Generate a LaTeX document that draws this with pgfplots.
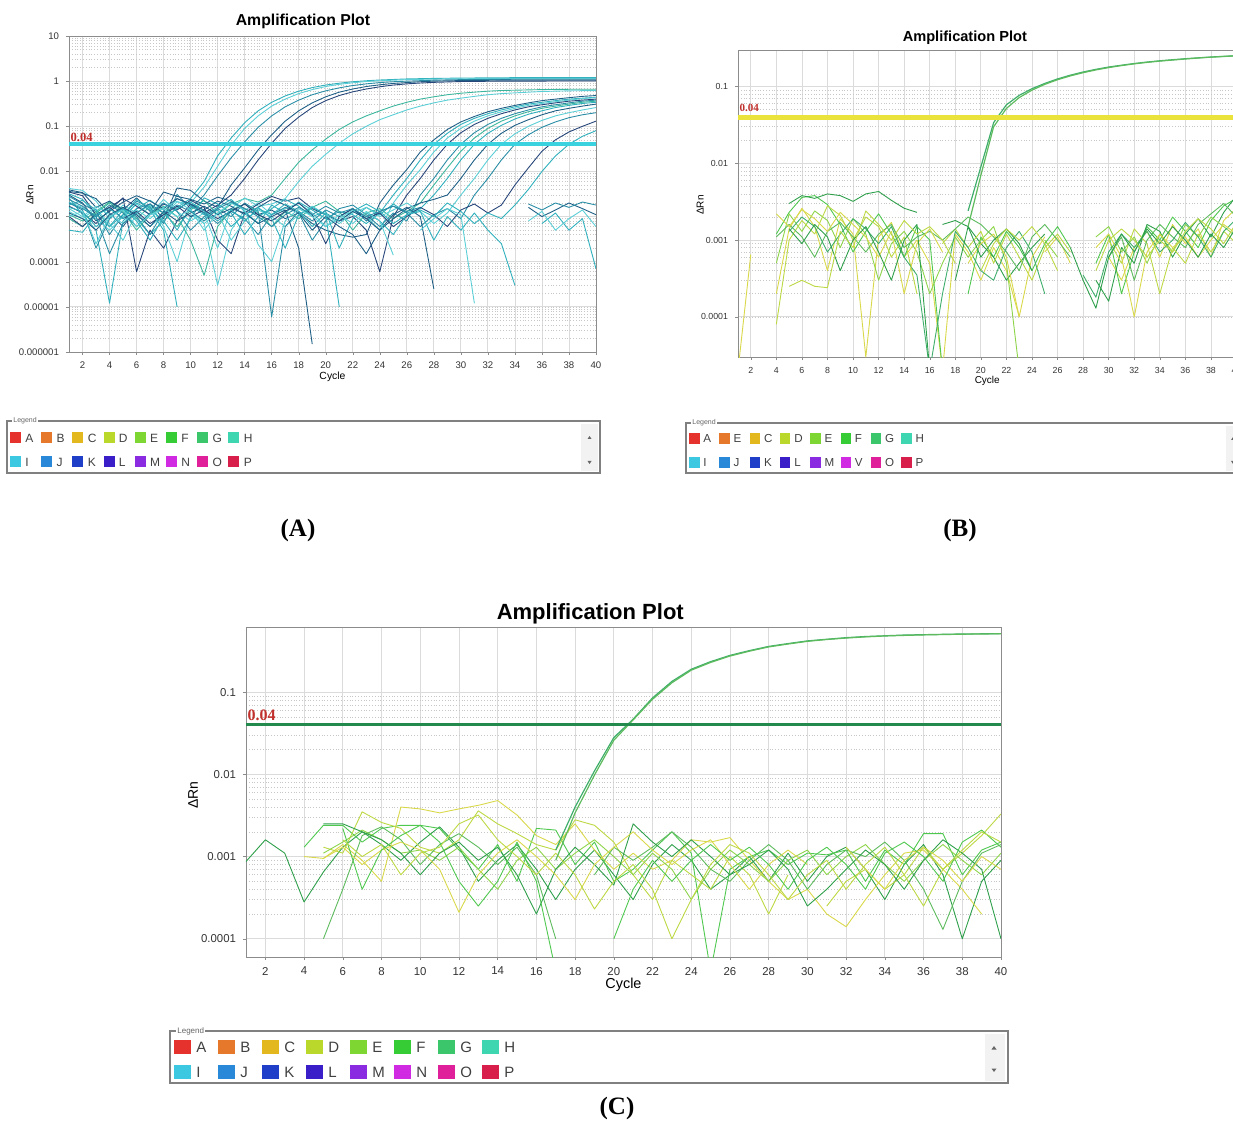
\documentclass[border=0pt]{standalone}
\usepackage{fontspec}
\setmainfont{Liberation Sans}
\newfontfamily\timesf{Liberation Serif}
\usepackage{pgfplots}
\pgfplotsset{compat=1.18}

% curve colours
\definecolor{aLight}{HTML}{5CCFD6}
\definecolor{aTeal}{HTML}{2FB0BC}
\definecolor{aMid}{HTML}{2A8DA6}
\definecolor{aDark}{HTML}{1F5F86}
\definecolor{aNavy}{HTML}{27467A}
\definecolor{aGT}{HTML}{3CB79E}
\definecolor{gY}{HTML}{D9D84A}
\definecolor{gYG}{HTML}{BCD843}
\definecolor{gLG}{HTML}{8DD44A}
\definecolor{gG}{HTML}{4FC84F}
\definecolor{gMG}{HTML}{5DBB5D}
\definecolor{gDG}{HTML}{2E9F4B}
\definecolor{gTG}{HTML}{3FAE6C}
\definecolor{thrA}{HTML}{3AD2DE}
\definecolor{thrB}{HTML}{E9E33C}
\definecolor{thrC}{HTML}{218A4C}
\definecolor{thrTxt}{HTML}{C0302C}
% legend colours
\definecolor{lA}{HTML}{E5322D}
\definecolor{lB}{HTML}{E5782A}
\definecolor{lC}{HTML}{E3B81E}
\definecolor{lD}{HTML}{BAD82C}
\definecolor{lE}{HTML}{7ED632}
\definecolor{lF}{HTML}{35CC35}
\definecolor{lG}{HTML}{3CC66C}
\definecolor{lH}{HTML}{3DD6B0}
\definecolor{lI}{HTML}{3CC8E0}
\definecolor{lJ}{HTML}{2A88D8}
\definecolor{lK}{HTML}{1F3FC8}
\definecolor{lL}{HTML}{3A1FC8}
\definecolor{lM}{HTML}{8A2BE2}
\definecolor{lN}{HTML}{D02BE2}
\definecolor{lO}{HTML}{E0209A}
\definecolor{lP}{HTML}{D81E4A}

\pgfplotsset{
  ampplot/.style={
    scale only axis, anchor=south west,
    xmin=1, xmax=40, xtick={2,4,...,40},
    axis line style={draw=black!45},
    tick style={draw=black!45}, major tick length=1.5pt, minor tick length=0pt,
    tick align=outside, xtick pos=bottom, ytick pos=left,
    grid=both,
    major grid style={draw=black!14, line width=0.4pt},
    minor grid style={draw=black!22, densely dotted, line width=0.3pt},
    unbounded coords=jump, clip=true,
    tick label style={text=black!80},
    every axis plot/.append style={no markers, line width=0.45pt, line join=round},
  },
}

\begin{document}
\begin{tikzpicture}[x=0.5pt, y=0.5pt]
\useasboundingbox (0,0) rectangle (1233,1121);
\clip (0,0) rectangle (1233,1121);

%% ---------------- panel A ----------------
\begin{axis}[ymode=log, ampplot, at={(34.5pt,384.5pt)}, width=263.5pt, height=158pt,
  /pgf/number format/assume math mode=true,
  ymin=1e-6, ymax=10,
  ytick={1e-6,1e-5,1e-4,1e-3,1e-2,1e-1,1,10},
  yticklabels={0.000001,0.00001,0.0001,0.001,0.01,0.1,1,10},
  tick label style={font=\fontsize{4.8}{5}\selectfont},
  title={Amplification Plot},
  title style={font=\bfseries\fontsize{7.9}{8}\selectfont, at={(axis description cs:0.444,1.009)}, anchor=center},
  xlabel={Cycle}, xlabel style={font=\fontsize{5.2}{6}\selectfont, at={(axis description cs:0.5,-0.08)}, anchor=center},
  ylabel={ΔRn}, ylabel style={font=\fontsize{5}{6}\selectfont, at={(axis description cs:-0.074,0.497)}, anchor=center},
]
\addplot[aTeal] coordinates {(1,3.2e-3)(2,2.4e-3)(3,1.1e-3)(4,6e-4)(5,1.4e-3)(6,9e-4)(7,4e-4)(8,8e-4)(9,1.6e-3)(10,2.5e-3)(11,6e-3)(12,0.022)(13,0.055)(14,0.12)(15,0.22)(16,0.34)(17,0.47)(18,0.6)(19,0.72)(20,0.82)(21,0.9)(22,0.97)(23,1.02)(24,1.06)(26,1.12)(28,1.15)(30,1.17)(33,1.19)(36,1.2)(40,1.2)};
\addplot[aLight] coordinates {(1,4.2e-3)(2,3.8e-3)(3,2.2e-3)(4,9e-4)(5,1.8e-3)(6,1.2e-3)(7,6e-4)(8,1.1e-3)(9,2.1e-3)(10,2e-3)(11,4.5e-3)(12,0.013)(13,0.038)(14,0.09)(15,0.17)(16,0.28)(17,0.4)(18,0.53)(19,0.65)(20,0.76)(21,0.85)(22,0.92)(23,0.98)(24,1.02)(26,1.08)(28,1.11)(30,1.13)(34,1.15)(40,1.15)};
\addplot[aMid] coordinates {(1,2.8e-3)(2,1.9e-3)(3,1.3e-3)(4,4e-4)(5,1.1e-3)(6,2.2e-3)(7,1.6e-3)(8,7e-4)(9,3.1e-3)(10,1.5e-3)(11,3e-3)(12,8e-3)(13,0.02)(14,0.045)(15,0.095)(16,0.17)(17,0.27)(18,0.38)(19,0.5)(20,0.61)(21,0.71)(22,0.8)(23,0.87)(24,0.93)(25,0.97)(26,1.0)(28,1.05)(30,1.08)(34,1.1)(40,1.1)};
\addplot[aDark] coordinates {(1,3.6e-3)(2,3.3e-3)(3,2.5e-3)(4,1.2e-3)(5,6e-4)(6,1.5e-3)(7,1.9e-3)(8,9e-4)(9,4.3e-3)(10,3.8e-3)(11,2.2e-3)(12,1.6e-3)(13,5e-3)(14,0.012)(15,0.03)(16,0.065)(17,0.13)(18,0.22)(19,0.33)(20,0.45)(21,0.57)(22,0.67)(23,0.76)(24,0.83)(25,0.89)(26,0.93)(27,0.97)(28,1.0)(30,1.03)(33,1.05)(40,1.05)};
\addplot[aNavy] coordinates {(1,1.7e-3)(2,1.2e-3)(3,7e-4)(4,1.4e-3)(5,2.6e-3)(6,6e-5)(7,5e-4)(8,2e-4)(9,8e-4)(10,1.9e-3)(11,1.2e-3)(12,1.8e-3)(13,3e-3)(14,7e-3)(15,0.018)(16,0.042)(17,0.09)(18,0.16)(19,0.26)(20,0.37)(21,0.48)(22,0.58)(23,0.67)(24,0.75)(25,0.82)(26,0.87)(27,0.91)(28,0.94)(30,0.98)(33,1.0)(40,1.01)};
\addplot[aGT] coordinates {(1,1.1e-3)(2,8e-4)(3,1.3e-3)(4,2.1e-3)(5,1.5e-3)(6,9e-4)(7,1.7e-3)(8,1.2e-3)(9,6e-4)(10,1.4e-3)(11,2.3e-3)(12,1.1e-3)(13,1.9e-3)(14,2.5e-3)(15,2.1e-3)(16,3e-3)(17,7e-3)(18,0.016)(19,0.03)(20,0.052)(21,0.085)(22,0.125)(23,0.17)(24,0.22)(25,0.28)(26,0.34)(27,0.4)(28,0.45)(29,0.5)(30,0.54)(31,0.57)(32,0.6)(33,0.62)(34,0.63)(35,0.64)(36,0.65)(38,0.66)(40,0.66)};
\addplot[aLight] coordinates {(1,2.1e-3)(2,1.6e-3)(3,9e-4)(4,5e-4)(5,1e-3)(6,1.9e-3)(7,1.1e-3)(8,2.4e-3)(9,1.3e-3)(10,8e-4)(11,1.2e-3)(12,2e-4)(13,1.5e-3)(14,2.6e-3)(15,1.7e-3)(16,1.9e-3)(17,2.5e-3)(18,6e-3)(19,0.013)(20,0.024)(21,0.042)(22,0.068)(23,0.1)(24,0.14)(25,0.18)(26,0.23)(27,0.28)(28,0.33)(29,0.38)(30,0.42)(31,0.46)(32,0.5)(33,0.53)(34,0.55)(35,0.57)(36,0.59)(37,0.6)(38,0.61)(40,0.62)};
\addplot[aDark] coordinates {(1,3.9e-3)(2,3.4e-3)(3,1.6e-3)(4,2.2e-3)(5,1.4e-3)(6,2.6e-3)(7,1.3e-3)(8,3.5e-3)(9,2.8e-3)(10,2.4e-3)(11,1.9e-3)(12,2.7e-3)(13,2.2e-3)(14,1.5e-3)(15,1.1e-3)(16,1.4e-3)(17,9e-4)(18,1.2e-3)(19,7e-4)(20,5e-4)(21,4e-4)(22,3.5e-4)(23,4e-4)(24,2e-3)(25,5e-3)(26,0.011)(27,0.027)(28,0.05)(29,0.085)(30,0.125)(31,0.165)(32,0.21)(33,0.25)(34,0.29)(35,0.33)(36,0.37)(37,0.4)(38,0.43)(39,0.46)(40,0.48)};
\addplot[aTeal] coordinates {(1,2.6e-3)(2,1.1e-3)(3,5e-4)(4,1.2e-5)(5,8e-4)(6,1.5e-3)(7,2.3e-3)(8,1.4e-3)(9,5e-4)(10,1.7e-3)(11,1.1e-3)(12,1.6e-3)(13,2.4e-3)(14,1.3e-3)(15,7e-4)(16,1.8e-3)(17,1.2e-3)(18,2.1e-3)(19,1.4e-3)(20,9e-4)(21,1.3e-3)(22,1.1e-3)(23,7e-4)(24,1.2e-3)(25,3e-3)(26,7e-3)(27,0.018)(28,0.04)(29,0.07)(30,0.11)(31,0.15)(32,0.19)(33,0.23)(34,0.27)(35,0.31)(36,0.34)(37,0.37)(38,0.4)(39,0.42)(40,0.44)};
\addplot[aLight] coordinates {(1,1.3e-3)(2,9e-4)(3,1.5e-3)(4,7e-4)(5,3e-4)(6,1.2e-3)(7,1.8e-3)(8,6e-4)(9,1e-4)(10,1.1e-3)(11,7e-4)(12,3e-5)(13,5e-4)(14,1.4e-3)(15,2e-3)(16,1.1e-3)(17,1.5e-3)(18,2e-3)(19,1.2e-3)(20,6e-4)(21,9e-4)(22,1.4e-3)(23,1e-3)(24,5e-4)(25,2e-3)(26,5e-3)(27,0.011)(28,0.027)(29,0.055)(30,0.09)(31,0.13)(32,0.17)(33,0.21)(34,0.25)(35,0.29)(36,0.32)(37,0.35)(38,0.38)(39,0.41)(40,0.43)};
\addplot[aNavy] coordinates {(1,3.5e-3)(2,2.9e-3)(3,1.1e-3)(4,1.6e-3)(5,2.5e-3)(6,1.7e-3)(7,1.1e-3)(8,1.9e-3)(9,1.4e-3)(10,2.3e-3)(11,1.6e-3)(12,3e-4)(13,1.5e-4)(14,1.2e-3)(15,1.9e-3)(16,2.8e-3)(17,2.2e-3)(18,2.6e-3)(19,1.5e-3)(20,1.1e-3)(21,8e-4)(22,1e-3)(23,5e-4)(24,6e-5)(25,1e-3)(26,3e-3)(27,7e-3)(28,0.018)(29,0.04)(30,0.072)(31,0.11)(32,0.15)(33,0.19)(34,0.23)(35,0.27)(36,0.3)(37,0.33)(38,0.36)(39,0.38)(40,0.4)};
\addplot[aMid] coordinates {(1,2e-3)(2,1.4e-3)(3,2e-4)(4,9e-4)(5,1.6e-3)(6,1e-3)(7,4e-4)(8,1.3e-3)(9,2.5e-3)(10,1.8e-3)(11,1.2e-3)(12,7e-4)(13,1.3e-3)(14,9e-4)(15,4e-4)(16,1.1e-3)(17,1.6e-3)(18,1.2e-3)(19,3e-4)(20,8e-4)(21,1.5e-3)(22,1.8e-3)(23,1.1e-3)(24,6e-4)(25,1.2e-3)(26,8e-4)(27,3e-3)(28,7e-3)(29,0.018)(30,0.04)(31,0.072)(32,0.11)(33,0.15)(34,0.19)(35,0.23)(36,0.27)(37,0.3)(38,0.33)(39,0.36)(40,0.38)};
\addplot[aGT] coordinates {(1,9e-4)(2,6e-4)(3,1.2e-3)(4,2e-3)(5,1.3e-3)(6,5e-4)(7,1.1e-3)(8,1.7e-3)(9,1e-3)(10,3e-4)(11,5e-5)(12,6e-4)(13,1.4e-3)(14,1.9e-3)(15,1.2e-3)(16,6e-4)(17,1.3e-3)(18,9e-4)(19,1.6e-3)(20,2.2e-3)(21,1.3e-3)(22,5e-4)(23,1.2e-3)(24,1.5e-3)(25,9e-4)(26,1.3e-3)(27,2e-3)(28,5e-3)(29,0.012)(30,0.028)(31,0.055)(32,0.09)(33,0.13)(34,0.17)(35,0.21)(36,0.25)(37,0.28)(38,0.31)(39,0.34)(40,0.36)};
\addplot[aTeal] coordinates {(1,1.8e-3)(2,2.3e-3)(3,1.4e-3)(4,6e-4)(5,1.1e-3)(6,2.4e-3)(7,1.5e-3)(8,8e-4)(9,3e-4)(10,9e-4)(11,2.6e-3)(12,1.9e-3)(13,1.2e-3)(14,4e-4)(15,1e-3)(16,1.5e-3)(17,2.4e-3)(18,1.7e-3)(19,1e-3)(20,1.3e-3)(21,2e-4)(22,9e-4)(23,1.6e-3)(24,1.1e-3)(25,1.9e-3)(26,1.2e-3)(27,1.5e-3)(28,3e-3)(29,7e-3)(30,0.018)(31,0.04)(32,0.07)(33,0.105)(34,0.145)(35,0.185)(36,0.22)(37,0.26)(38,0.29)(39,0.32)(40,0.34)};
\addplot[aDark] coordinates {(1,3e-3)(2,2e-3)(3,8e-4)(4,1.3e-3)(5,2.1e-3)(6,2.9e-3)(7,2.2e-3)(8,1.5e-3)(9,2.5e-3)(10,1.9e-3)(11,1.4e-3)(12,2.2e-3)(13,1.7e-3)(14,1.1e-3)(15,1.6e-3)(16,2.4e-3)(17,1.8e-3)(18,1.2e-3)(19,5e-4)(20,1e-3)(21,6e-4)(22,4e-4)(23,1.5e-4)(24,5e-4)(25,9e-4)(26,1.5e-3)(27,2e-3)(28,2.4e-3)(29,3e-3)(30,7e-3)(31,0.018)(32,0.04)(33,0.07)(34,0.105)(35,0.14)(36,0.18)(37,0.22)(38,0.25)(39,0.28)(40,0.31)};
\addplot[aLight] coordinates {(1,1.5e-3)(2,1e-3)(3,1.7e-3)(4,1.1e-3)(5,7e-4)(6,1.4e-3)(7,9e-4)(8,1.6e-3)(9,2.2e-3)(10,1.4e-3)(11,7e-4)(12,1.2e-3)(13,3e-4)(14,8e-4)(15,1.4e-3)(16,1e-3)(17,6e-4)(18,1.1e-3)(19,1.7e-3)(20,1.1e-3)(21,7e-4)(22,1.2e-3)(23,1.6e-3)(24,1e-3)(25,1.4e-3)(26,2e-3)(27,1.3e-3)(28,7e-4)(29,1.2e-3)(30,3e-3)(31,7e-3)(32,0.018)(33,0.04)(34,0.068)(35,0.1)(36,0.135)(37,0.17)(38,0.2)(39,0.23)(40,0.26)};
\addplot[aMid] coordinates {(1,2.4e-3)(2,1.7e-3)(3,1e-3)(4,1.8e-3)(5,1.2e-3)(6,6e-4)(7,1.2e-3)(8,2e-3)(9,1.3e-3)(10,5e-4)(11,1e-3)(12,1.5e-3)(13,1e-3)(14,2e-3)(15,1.3e-3)(16,6e-6)(17,6e-4)(18,1.3e-3)(19,8e-4)(20,1.4e-3)(21,1e-3)(22,1.5e-3)(23,8e-4)(24,1.3e-3)(25,1.7e-3)(26,1.2e-3)(27,6e-4)(28,1.1e-3)(29,1.5e-3)(30,9e-4)(31,3e-3)(32,7e-3)(33,0.018)(34,0.04)(35,0.065)(36,0.095)(37,0.125)(38,0.155)(39,0.18)(40,0.2)};
\addplot[aNavy] coordinates {(1,1e-3)(2,6e-4)(3,1.1e-3)(4,1.6e-3)(5,9e-4)(6,1.3e-3)(7,7e-4)(8,1.1e-3)(9,1.7e-3)(10,1e-3)(11,1.4e-3)(12,9e-4)(13,1.3e-3)(14,1.9e-3)(15,1.1e-3)(16,8e-4)(17,1.3e-3)(18,2e-3)(19,1.1e-3)(20,2.5e-4)(21,1e-3)(22,1.5e-3)(23,9e-4)(24,1.2e-3)(25,6e-4)(26,1e-3)(27,1.6e-3)(28,1.1e-3)(29,6e-4)(30,1.4e-3)(31,1.9e-3)(32,1.2e-3)(33,1.8e-3)(34,5e-3)(35,0.012)(36,0.028)(37,0.05)(38,0.075)(39,0.1)(40,0.13)};
\addplot[aTeal] coordinates {(1,1.6e-3)(2,1.3e-3)(3,6e-4)(4,1e-3)(5,1.5e-3)(6,8e-4)(7,3e-4)(8,1e-3)(9,1.5e-3)(10,2.1e-3)(11,1.3e-3)(12,8e-4)(13,1.4e-3)(14,8e-4)(15,1.5e-3)(16,1.1e-3)(17,1.9e-3)(18,1.3e-3)(19,6e-4)(20,1.2e-3)(21,8e-4)(22,1.3e-3)(23,1.9e-3)(24,1.3e-3)(25,7e-4)(26,1.1e-3)(27,1.4e-3)(28,1e-3)(29,2e-3)(30,1.3e-3)(31,7e-4)(32,1.2e-3)(33,9e-4)(34,1.8e-3)(35,4e-3)(36,0.01)(37,0.022)(38,0.04)(39,0.06)(40,0.08)};
\addplot[aDark] coordinates {(1,1.2e-3)(2,9e-4)(3,5e-4)(4,1.1e-3)(5,1.6e-3)(6,1.1e-3)(7,6e-4)(8,1.3e-3)(9,8e-4)(10,1.2e-3)(11,1.7e-3)(12,1.1e-3)(13,1.5e-3)(14,1.2e-3)(15,7e-4)(16,1e-3)(17,1.4e-3)(18,2e-4)(19,1.5e-6)(20,nan)(21,8e-4)(22,1.3e-3)(23,9e-4)(24,5e-4)(25,1.1e-3)(26,1.6e-3)(27,1e-3)(28,2.5e-5)(29,nan)(35,1.6e-3)(36,1e-3)(37,1.4e-3)(38,2e-3)(39,1.5e-3)(40,1.1e-3)};
\addplot[aTeal] coordinates {(1,5e-4)(2,4.5e-4)(3,1.1e-3)(4,1.5e-3)(5,9e-4)(6,2e-3)(7,1.4e-3)(8,5e-4)(9,1e-5)(10,nan)(11,9e-4)(12,1.4e-3)(13,6e-4)(14,1.1e-3)(15,1.6e-3)(16,9e-4)(17,2e-4)(18,1.1e-3)(19,1.6e-3)(20,1.1e-3)(21,1e-5)(22,nan)(23,1.2e-3)(24,8e-4)(25,4e-4)(26,1.1e-3)(27,1.3e-3)(28,3e-4)(29,1e-3)(30,5e-4)(31,1.2e-3)(32,5e-4)(33,2.5e-4)(34,3e-5)(35,nan)(36,7e-4)(37,1.2e-3)(38,5e-4)(39,9e-4)(40,7e-5)};
\addplot[aLight] coordinates {(1,1e-3)(2,1.3e-3)(3,2.5e-4)(4,1e-3)(5,1.4e-3)(6,6e-4)(7,1.1e-3)(8,1.5e-3)(9,1e-3)(10,1.4e-3)(11,5e-4)(12,1.2e-3)(13,2e-3)(14,1.4e-3)(15,2.4e-4)(16,1e-4)(17,8e-4)(18,1.5e-3)(19,1e-3)(20,6e-4)(21,1.1e-3)(22,7e-4)(23,1.3e-3)(24,8e-4)(25,1.4e-4)(26,nan)(27,5e-4)(28,9e-4)(29,1.5e-3)(30,1.1e-3)(31,1.2e-5)(32,nan)(35,8e-4)(36,1.3e-3)(37,5e-4)(38,9e-4)(39,1.4e-3)(40,6e-4)};
\addplot[aMid] coordinates {(1,2e-3)(2,1.5e-3)(3,1e-3)(4,1.5e-4)(5,7e-4)(6,1.2e-3)(7,1.9e-3)(8,1.2e-3)(9,1.8e-3)(10,1.3e-3)(11,8e-4)(12,1.5e-3)(13,2.1e-3)(14,1.5e-3)(15,1e-3)(16,6e-4)(17,1.1e-3)(18,1.6e-3)(19,1.1e-3)(20,1.7e-3)(21,1.2e-3)(22,1.5e-3)(23,1e-3)(24,1.3e-3)(25,1.7e-3)(26,1.3e-3)(27,1.6e-3)(28,nan)(35,1.9e-3)(36,1.4e-3)(37,2e-3)(38,1.6e-3)(39,2.1e-3)(40,1.8e-3)};
\addplot[thrA, line width=2pt] coordinates {(1,0.04)(40,0.04)};
\node[anchor=south west, inner sep=0.6pt, text=thrTxt, font=\timesf\bfseries\fontsize{6.3}{6.3}\selectfont] at (axis cs:1,0.043) {0.04};
\end{axis}

%% ---------------- panel B ----------------
\begin{axis}[ymode=log, ampplot, at={(369pt,382pt)}, width=249.25pt, height=153.5pt,
  /pgf/number format/assume math mode=true,
  ymin=3e-5, ymax=0.3,
  ytick={1e-4,1e-3,1e-2,1e-1},
  yticklabels={0.0001,0.001,0.01,0.1},
  tick label style={font=\fontsize{4.4}{5}\selectfont},
  title={Amplification Plot},
  title style={font=\bfseries\fontsize{7.3}{8}\selectfont, at={(axis description cs:0.455,1.0)}, anchor=center},
  xlabel={Cycle}, xlabel style={font=\fontsize{5}{6}\selectfont, at={(axis description cs:0.5,-0.078)}, anchor=center},
  ylabel={ΔRn}, ylabel style={font=\fontsize{5}{6}\selectfont, at={(axis description cs:-0.076,0.495)}, anchor=center},
]
\addplot[gY] coordinates {(1,2e-5)(2,6.5e-4)(3,nan)(4,2e-4)(5,1.4e-3)(6,2.6e-3)(7,1.5e-3)(8,4e-4)(9,1.9e-3)(10,1.2e-3)(11,3e-5)(12,1.1e-3)(13,1.7e-3)(14,6e-4)(15,1e-3)(16,5e-4)(17,2e-5)(18,1.2e-3)(19,7e-4)(20,3e-4)(21,8e-4)(22,4e-4)(23,1e-4)(24,nan)(25,7e-4)(26,1.1e-3)(27,5e-4)(28,nan)(30,6e-4)(31,3e-4)(32,8e-4)(33,1.3e-3)(34,6e-4)(35,1.6e-3)(36,9e-4)(37,1.4e-3)(38,6e-4)(39,1.8e-3)(40,2.6e-3)};
\addplot[gG] coordinates {(4,1.2e-3)(5,2.3e-3)(6,3.6e-3)(7,3.8e-3)(8,2.9e-3)(9,1.6e-3)(10,7e-4)(11,1.3e-3)(12,2.2e-3)(13,1.2e-3)(14,6e-4)(15,1.5e-3)(16,1e-3)(17,2e-5)(18,nan)(19,2e-4)(20,1.1e-3)(21,6e-4)(22,1.3e-3)(23,8e-4)(24,4e-4)(25,9e-4)(26,1.5e-3)(27,8e-4)(28,nan)(29,5e-4)(30,1.2e-3)(31,2e-4)(32,7e-4)(33,1.5e-3)(34,1e-3)(35,2e-3)(36,1.3e-3)(37,8e-4)(38,1.8e-3)(39,2.8e-3)(40,3.5e-3)};
\addplot[gDG] coordinates {(5,3e-3)(6,3.8e-3)(7,3.5e-3)(8,4e-3)(9,3.8e-3)(10,3.2e-3)(11,4e-3)(12,4.3e-3)(13,3.3e-3)(14,2.6e-3)(15,2.3e-3)(16,nan)(17,1.6e-3)(18,1.8e-3)(19,1.5e-3)(20,9e-4)(21,6e-4)(22,3e-4)(23,5e-4)(24,8e-4)(25,1.2e-3)(26,nan)(29,3e-4)(30,1.6e-4)(31,8e-4)(32,5e-4)(33,1.6e-3)(34,1.3e-3)(35,6e-4)(36,1.2e-3)(37,1.9e-3)(38,1.1e-3)(39,2.3e-3)(40,3.8e-3)};
\addplot[gLG] coordinates {(4,5e-4)(5,2.2e-3)(6,1.3e-3)(7,2.4e-3)(8,1.8e-3)(9,8e-4)(10,1.9e-3)(11,1.2e-3)(12,3e-4)(13,9e-4)(14,1.3e-3)(15,7e-4)(16,2e-4)(17,5e-4)(18,1.1e-3)(19,6e-4)(20,1e-3)(21,1.5e-3)(22,5e-4)(23,2e-5)(24,nan)(25,1e-3)(26,6e-4)(27,nan)(29,1.1e-3)(30,1.5e-3)(31,7e-4)(32,1.1e-3)(33,5e-4)(34,1.2e-3)(35,7e-4)(36,1.6e-3)(37,1.1e-3)(38,2e-3)(39,1.5e-3)(40,1.1e-3)};
\addplot[gYG] coordinates {(4,8e-5)(5,1e-3)(6,1.8e-3)(7,1.2e-3)(8,2.8e-3)(9,2.1e-3)(10,1e-3)(11,2e-3)(12,1.5e-3)(13,6e-4)(14,1.1e-3)(15,2e-4)(16,nan)(17,9e-4)(18,1.4e-3)(19,8e-4)(20,1.3e-3)(21,5e-4)(22,1.2e-3)(23,6e-4)(24,3e-4)(25,8e-4)(26,1.2e-3)(27,7e-4)(28,nan)(30,1e-3)(31,5e-4)(32,1.4e-3)(33,9e-4)(34,2e-4)(35,8e-4)(36,5e-4)(37,1.2e-3)(38,7e-4)(39,1.3e-3)(40,9e-4)};
\addplot[gMG] coordinates {(4,1.1e-3)(5,1.6e-3)(6,1.1e-3)(7,6e-4)(8,1.3e-3)(9,1.7e-3)(10,1.1e-3)(11,7e-4)(12,1.2e-3)(13,1.6e-3)(14,8e-4)(15,1.1e-3)(16,1.3e-3)(17,1e-3)(18,1.4e-3)(19,2e-3)(20,1.6e-3)(21,1.1e-3)(22,7e-4)(23,4e-4)(24,1.1e-3)(25,1.6e-3)(26,1e-3)(27,6e-4)(28,nan)(30,6e-4)(31,1.1e-3)(32,3e-4)(33,1e-3)(34,1.6e-3)(35,1.1e-3)(36,8e-4)(37,1.6e-3)(38,2.2e-3)(39,3e-3)(40,2e-3)};
\addplot[gTG] coordinates {(5,1.3e-3)(6,2e-3)(7,1.5e-3)(8,7e-4)(9,1.2e-3)(10,1.9e-3)(11,1.4e-3)(12,9e-4)(13,1.5e-3)(14,6e-4)(15,3.5e-4)(16,2e-5)(17,2e-4)(18,1.3e-3)(19,8e-4)(20,4e-4)(21,3e-4)(22,8e-4)(23,1.3e-3)(24,7e-4)(25,2e-4)(26,nan)(28,3.5e-4)(29,1.8e-4)(30,7e-4)(31,1.2e-3)(32,8e-4)(33,1.3e-3)(34,7e-4)(35,1e-3)(36,1.7e-3)(37,1.1e-3)(38,6e-4)(39,1.3e-3)(40,1.9e-3)};
\addplot[gY] coordinates {(4,2.2e-3)(5,1.5e-3)(6,2.5e-3)(7,1.9e-3)(8,1.3e-3)(9,2.3e-3)(10,1.6e-3)(11,1.1e-3)(12,6e-4)(13,1.3e-3)(14,2e-4)(15,9e-4)(16,1.4e-3)(17,7e-4)(18,nan)(19,5e-4)(20,9e-4)(21,1.2e-3)(22,6e-4)(23,1e-4)(24,6e-4)(25,1.1e-3)(26,nan)(29,8e-4)(30,1.2e-3)(31,6e-4)(32,1e-4)(33,7e-4)(34,1.2e-3)(35,8e-4)(36,1.1e-3)(37,6e-4)(38,1e-3)(39,1.6e-3)(40,1.2e-3)};
\addplot[gDG] coordinates {(5,1.4e-3)(6,9e-4)(7,1.6e-3)(8,1.1e-3)(9,4e-4)(10,1e-3)(11,1.5e-3)(12,7e-4)(13,3e-4)(14,1e-3)(15,1.6e-3)(16,2e-5)(17,nan)(18,3e-4)(19,1.5e-3)(20,6e-4)(21,1e-3)(22,1.4e-3)(23,9e-4)(24,4e-4)(25,nan)(27,8e-4)(28,3e-4)(29,1.3e-4)(30,6e-4)(31,1.2e-3)(32,7e-4)(33,1.4e-3)(34,9e-4)(35,1.5e-3)(36,1e-3)(37,6e-4)(38,1.2e-3)(39,8e-4)(40,1.5e-3)};
\addplot[gYG] coordinates {(5,2.5e-4)(6,3e-4)(7,2.5e-4)(8,2.4e-4)(9,1.3e-3)(10,8e-4)(11,2.4e-3)(12,1.6e-3)(13,1e-3)(14,1.8e-3)(15,1.2e-3)(16,1.5e-3)(17,1e-3)(18,5e-4)(19,nan)(20,4e-4)(21,9e-4)(22,1.4e-3)(23,1e-3)(24,1.5e-3)(25,9e-4)(26,4e-4)(27,nan)(29,4e-4)(30,1e-3)(31,1.4e-3)(32,1e-3)(33,6e-4)(34,1e-3)(35,7e-4)(36,1.3e-3)(37,1.9e-3)(38,1.4e-3)(39,9e-4)(40,1.7e-3)};
\addplot[gTG, line width=0.6pt] coordinates {(19,2.4e-3)(20,9e-3)(21,0.034)(22,0.058)(23,0.077)(24,0.094)(25,0.11)(26,0.126)(27,0.141)(28,0.155)(29,0.168)(30,0.18)(31,0.19)(32,0.2)(33,0.209)(34,0.217)(35,0.224)(36,0.231)(37,0.237)(38,0.243)(39,0.248)(40,0.253)};
\addplot[gMG, line width=0.6pt] coordinates {(19,1.5e-3)(20,7e-3)(21,0.03)(22,0.052)(23,0.072)(24,0.09)(25,0.107)(26,0.123)(27,0.138)(28,0.152)(29,0.165)(30,0.177)(31,0.188)(32,0.198)(33,0.207)(34,0.215)(35,0.222)(36,0.229)(37,0.236)(38,0.242)(39,0.247)(40,0.252)};
\addplot[thrB, line width=2.4pt] coordinates {(1,0.04)(40,0.04)};
\node[anchor=south west, inner sep=0.6pt, text=thrTxt, font=\timesf\bfseries\fontsize{5.5}{5.5}\selectfont] at (axis cs:1,0.045) {0.04};
\end{axis}

%% ---------------- panel C ----------------
\begin{axis}[ymode=log, ampplot, at={(123pt,82pt)}, width=377.5pt, height=165pt,
  /pgf/number format/assume math mode=true,
  ymin=6e-5, ymax=0.62,
  ytick={1e-4,1e-3,1e-2,1e-1},
  yticklabels={0.0001,0.001,0.01,0.1},
  tick label style={font=\fontsize{5.7}{6}\selectfont},
  title={Amplification Plot},
  title style={font=\bfseries\fontsize{11}{12}\selectfont, at={(axis description cs:0.456,1.003)}, anchor=center},
  xlabel={Cycle}, xlabel style={font=\fontsize{7.2}{8}\selectfont, at={(axis description cs:0.5,-0.085)}, anchor=center},
  ylabel={ΔRn}, ylabel style={font=\fontsize{7}{8}\selectfont, at={(axis description cs:-0.07,0.49)}, anchor=center},
]
\addplot[gDG] coordinates {(1,8.7e-4)(2,1.6e-3)(3,1.1e-3)(4,2.8e-4)(5,6.5e-4)(6,1.3e-3)(7,2e-3)(8,1.4e-3)(9,9e-4)(10,1.5e-3)(11,2.3e-3)(12,1.3e-3)(13,5e-4)(14,9e-4)(15,1.4e-3)(16,7e-4)(17,3e-4)(18,7e-4)(19,1.2e-3)(20,6e-4)(21,3e-4)(22,8e-4)(23,1.4e-3)(24,9e-4)(25,4e-4)(26,6e-4)(27,1e-3)(28,5e-4)(29,1.1e-3)(30,5e-4)(31,1e-3)(32,1.3e-3)(33,7e-4)(34,3e-4)(35,8e-4)(36,1.4e-3)(37,6e-4)(38,1e-4)(39,5e-4)(40,9e-4)};
\addplot[gG] coordinates {(4,1.3e-3)(5,2.4e-3)(6,2.4e-3)(7,1.5e-3)(8,2.2e-3)(9,2.4e-3)(10,2.4e-3)(11,2.2e-3)(12,1.2e-3)(13,7e-4)(14,1.4e-3)(15,5e-4)(16,2.2e-3)(17,2.1e-3)(18,8e-4)(19,1.5e-3)(20,5e-4)(21,7e-4)(22,1.2e-3)(23,2e-3)(24,1.1e-3)(25,4e-5)(26,7e-4)(27,1e-3)(28,1.2e-3)(29,8e-4)(30,1.1e-3)(31,1.05e-3)(32,1.2e-3)(33,5e-4)(34,1.2e-3)(35,8e-4)(36,1.9e-3)(37,1.9e-3)(38,6e-4)(39,1.2e-3)(40,1.5e-3)};
\addplot[gY] coordinates {(4,1e-3)(5,9.5e-4)(6,1.4e-3)(7,9e-4)(8,5e-4)(9,4e-3)(10,3.8e-3)(11,3.4e-3)(12,3.8e-3)(13,4.2e-3)(14,4.8e-3)(15,3.2e-3)(16,1.8e-3)(17,1.4e-3)(18,2.5e-3)(19,1.2e-3)(20,7e-4)(21,1.1e-3)(22,7e-4)(23,9e-4)(24,1.6e-3)(25,1.5e-3)(26,1.7e-3)(27,9e-4)(28,5e-4)(29,3e-4)(30,4e-4)(31,2e-4)(32,1.4e-4)(33,3e-4)(34,6e-4)(35,1.1e-3)(36,1.2e-3)(37,7e-4)(38,4e-4)(39,2e-4)};
\addplot[gYG] coordinates {(5,1.3e-3)(6,1.1e-3)(7,3.5e-3)(8,2.6e-3)(9,2.2e-3)(10,1.3e-3)(11,1.1e-3)(12,1.6e-3)(13,3.6e-3)(14,2.5e-3)(15,1.9e-3)(16,1.4e-3)(17,1.2e-3)(18,2.8e-3)(19,2.4e-3)(20,1.5e-3)(21,6e-4)(22,3e-4)(23,9e-4)(24,6e-4)(25,4e-4)(26,1e-3)(27,6e-4)(28,2e-4)(29,6e-4)(30,nan)(31,2.5e-4)(32,5e-4)(33,7e-4)(34,4e-4)(35,6e-4)(36,1.3e-3)(37,7e-4)(38,1.1e-3)(39,1.8e-3)(40,3.3e-3)};
\addplot[gLG] coordinates {(5,1.1e-3)(6,1.5e-3)(7,2.1e-3)(8,1.6e-3)(9,1.1e-3)(10,1.2e-3)(11,9e-4)(12,1.3e-3)(13,7e-4)(14,4e-4)(15,9e-4)(16,1.3e-3)(17,7e-4)(18,1.1e-3)(19,1.6e-3)(20,1e-3)(21,6e-4)(22,1.1e-3)(23,7e-4)(24,3e-4)(25,7e-4)(26,1.2e-3)(27,8e-4)(28,5e-4)(29,9e-4)(30,1.2e-3)(31,6e-4)(32,1e-3)(33,1.4e-3)(34,8e-4)(35,5e-4)(36,9e-4)(37,1.4e-3)(38,9e-4)(39,6e-4)(40,1.1e-3)};
\addplot[gMG] coordinates {(5,1e-4)(6,4e-4)(7,1.8e-3)(8,2.3e-3)(9,1.6e-3)(10,8e-4)(11,1.4e-3)(12,1.9e-3)(13,1.3e-3)(14,8e-4)(15,1.3e-3)(16,6e-4)(17,1e-4)(18,nan)(19,6e-4)(20,1.3e-3)(21,9e-4)(22,1.3e-3)(23,2e-3)(24,1.3e-3)(25,7e-4)(26,5e-4)(27,9e-4)(28,1.4e-3)(29,9e-4)(30,4e-4)(31,8e-4)(32,1.2e-3)(33,1e-3)(34,1.5e-3)(35,9e-4)(36,4e-4)(37,1.3e-4)(38,5e-4)(39,1.1e-3)(40,1.4e-3)};
\addplot[gDG] coordinates {(5,2.5e-3)(6,2.5e-3)(7,2e-3)(8,1.6e-3)(9,1.1e-3)(10,6e-4)(11,1.1e-3)(12,1.5e-3)(13,9e-4)(14,1.3e-3)(15,6e-4)(16,2e-4)(17,7e-4)(18,1.3e-3)(19,8e-4)(20,4.5e-4)(21,2.5e-3)(22,1.5e-3)(23,1e-3)(24,1.6e-3)(25,1e-3)(26,6e-4)(27,8e-4)(28,1.2e-3)(29,7e-4)(30,2.5e-4)(31,4e-4)(32,7e-4)(33,1.2e-3)(34,8e-4)(35,4e-4)(36,9e-4)(37,1.6e-3)(38,1.1e-3)(39,7e-4)(40,1e-4)};
\addplot[gY] coordinates {(5,9.5e-4)(6,1.3e-3)(7,8e-4)(8,1.2e-3)(9,1.5e-3)(10,1.2e-3)(11,7e-4)(12,2.1e-4)(13,6e-4)(14,1.1e-3)(15,1.6e-3)(16,1e-3)(17,6e-4)(18,3e-4)(19,8e-4)(20,1.3e-3)(21,2e-3)(22,1.2e-3)(23,8e-4)(24,1.2e-3)(25,1.6e-3)(26,8e-4)(27,4e-4)(28,8e-4)(29,1.2e-3)(30,8e-4)(31,nan)(32,1.3e-3)(33,7e-4)(34,4e-4)(35,9e-4)(36,1.3e-3)(37,9e-4)(38,5e-4)(39,1e-3)(40,7e-4)};
\addplot[gG] coordinates {(6,2.2e-3)(7,4e-4)(8,1.2e-3)(9,1.8e-3)(10,2.4e-3)(11,1.5e-3)(12,5e-4)(13,2.5e-4)(14,5e-4)(15,1.5e-3)(16,5e-4)(17,4e-5)(18,nan)(20,1e-4)(21,4e-4)(22,9e-4)(23,5e-4)(24,9e-4)(25,1.4e-3)(26,9e-4)(27,1.3e-3)(28,8e-4)(29,4e-4)(30,9e-4)(31,1.3e-3)(32,8e-4)(33,4e-4)(34,1.1e-3)(35,1.5e-3)(36,1e-3)(37,5e-4)(38,1.5e-3)(39,2.1e-3)(40,1.3e-3)};
\addplot[gYG] coordinates {(6,1.6e-3)(7,1e-3)(8,1.4e-3)(9,6e-4)(10,1.1e-3)(11,1.3e-3)(12,2.5e-3)(13,3.2e-3)(14,1.6e-3)(15,1e-3)(16,6e-4)(17,1.1e-3)(18,6e-4)(19,2.3e-4)(20,5e-4)(21,8e-4)(22,4e-4)(23,1e-4)(24,3e-4)(25,8e-4)(26,1.4e-3)(27,1.1e-3)(28,6e-4)(29,3e-4)(30,6e-4)(31,9e-4)(32,4e-4)(33,8e-4)(34,1.3e-3)(35,6e-4)(36,2.5e-4)(37,7e-4)(38,1.2e-3)(39,2e-3)(40,1.5e-3)};
\addplot[gTG, line width=0.6pt] coordinates {(17,1.2e-3)(18,4e-3)(19,0.011)(20,0.028)(21,0.047)(22,0.085)(23,0.135)(24,0.19)(25,0.235)(26,0.28)(27,0.32)(28,0.36)(29,0.39)(30,0.42)(31,0.44)(32,0.46)(33,0.475)(34,0.485)(35,0.495)(36,0.5)(37,0.505)(38,0.51)(39,0.512)(40,0.515)};
\addplot[gMG, line width=0.6pt] coordinates {(17,9e-4)(18,3.4e-3)(19,9.8e-3)(20,0.026)(21,0.046)(22,0.082)(23,0.13)(24,0.185)(25,0.23)(26,0.275)(27,0.315)(28,0.355)(29,0.385)(30,0.415)(31,0.437)(32,0.455)(33,0.47)(34,0.482)(35,0.49)(36,0.497)(37,0.502)(38,0.507)(39,0.51)(40,0.513)};
\addplot[thrC, line width=1.5pt] coordinates {(1,0.04)(40,0.04)};
\node[anchor=south west, inner sep=0.6pt, text=thrTxt, font=\timesf\bfseries\fontsize{8}{8}\selectfont] at (axis cs:1,0.043) {0.04};
\end{axis}

%% ---------------- legend boxes ----------------
% A
\draw[black!50, line width=0.6pt] (7,700) rectangle (600,648);
\node[anchor=west, fill=white, inner sep=0.5pt, text=black!60, font=\fontsize{3.5}{4}\selectfont] at (12,700) {Legend};
\fill[black!5] (581,697) rectangle (598,650);
\fill[black!60] (589.5,685)--(587.5,682)--(591.5,682)--cycle;
\fill[black!60] (589.5,657)--(587.5,660)--(591.5,660)--cycle;
\foreach \c/\L [count=\i from 0] in {lA/A,lB/B,lC/C,lD/D,lE/E,lF/F,lG/G,lH/H}{
  \fill[\c] ({10+31.2*\i},677.5) rectangle ++(11,11);
  \node[anchor=west, inner sep=0pt, text=black!75, font=\fontsize{6}{6}\selectfont] at ({25+31.2*\i},683) {\L};
}
\foreach \c/\L [count=\i from 0] in {lI/I,lJ/J,lK/K,lL/L,lM/M,lN/N,lO/O,lP/P}{
  \fill[\c] ({10+31.2*\i},653.5) rectangle ++(11,11);
  \node[anchor=west, inner sep=0pt, text=black!75, font=\fontsize{6}{6}\selectfont] at ({25+31.2*\i},659) {\L};
}
% B
\draw[black!50, line width=0.6pt] (686,698) rectangle (1250,648);
\node[anchor=west, fill=white, inner sep=0.5pt, text=black!60, font=\fontsize{3.5}{4}\selectfont] at (691,698) {Legend};
\fill[black!5] (1226,695) rectangle (1245,650);
\fill[black!60] (1233,684)--(1231,681)--(1235,681)--cycle;
\fill[black!60] (1233,657)--(1231,660)--(1235,660)--cycle;
\foreach \c/\L [count=\i from 0] in {lA/A,lB/E,lC/C,lD/D,lE/E,lF/F,lG/G,lH/H}{
  \fill[\c] ({689+30.3*\i},677) rectangle ++(10.5,10.5);
  \node[anchor=west, inner sep=0pt, text=black!75, font=\fontsize{5.8}{6}\selectfont] at ({703+30.3*\i},682) {\L};
}
\foreach \c/\L [count=\i from 0] in {lI/I,lJ/J,lK/K,lL/L,lM/M,lN/V,lO/O,lP/P}{
  \fill[\c] ({689+30.3*\i},653) rectangle ++(10.5,10.5);
  \node[anchor=west, inner sep=0pt, text=black!75, font=\fontsize{5.8}{6}\selectfont] at ({703+30.3*\i},658) {\L};
}
% C
\draw[black!50, line width=0.6pt] (170,90) rectangle (1008,38);
\node[anchor=west, fill=white, inner sep=0.5pt, text=black!60, font=\fontsize{4}{4}\selectfont] at (176,90) {Legend};
\fill[black!5] (985,87) rectangle (1005,40);
\fill[black!60] (994,75)--(991.5,71.5)--(996.5,71.5)--cycle;
\fill[black!60] (994,49)--(991.5,52.5)--(996.5,52.5)--cycle;
\foreach \c/\L [count=\i from 0] in {lA/A,lB/B,lC/C,lD/D,lE/E,lF/F,lG/G,lH/H}{
  \fill[\c] ({174+44*\i},67) rectangle ++(17,14);
  \node[anchor=west, inner sep=0pt, text=black!75, font=\fontsize{7.5}{8}\selectfont] at ({196+44*\i},74) {\L};
}
\foreach \c/\L [count=\i from 0] in {lI/I,lJ/J,lK/K,lL/L,lM/M,lN/N,lO/O,lP/P}{
  \fill[\c] ({174+44*\i},42) rectangle ++(17,14);
  \node[anchor=west, inner sep=0pt, text=black!75, font=\fontsize{7.5}{8}\selectfont] at ({196+44*\i},49) {\L};
}

%% ---------------- panel letters ----------------
\node[font=\timesf\bfseries\fontsize{12.5}{13}\selectfont] at (298,591) {(A)};
\node[font=\timesf\bfseries\fontsize{12.5}{13}\selectfont] at (960,591) {(B)};
\node[font=\timesf\bfseries\fontsize{12.5}{13}\selectfont] at (617,13) {(C)};
\end{tikzpicture}
\end{document}
